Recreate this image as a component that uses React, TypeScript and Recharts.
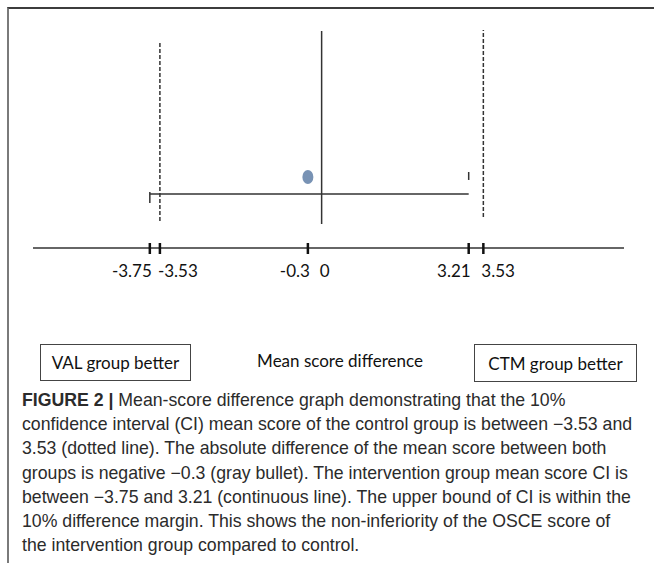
import React from "react";
import { ComposedChart, ReferenceLine, Scatter, XAxis, YAxis } from "recharts";

// values
const nonInferiorityMargin = 3.53; // control group CI (dotted lines)
const interventionCI = [-3.75, 3.21]; // continuous line
const meanDifference = -0.3; // gray bullet
const tickValues = [-3.75, -3.53, -0.3, 0, 3.21, 3.53];
const tickLabels = ["-3.75", "-3.53", "-0.3", "0", "3.21", "3.53"];
const sideLabels = ["VAL group better", "CTM group better"];
const axisTitle = "Mean score difference";
const captionLines = [
  "Mean-score difference graph demonstrating that the 10%",
  "confidence interval (CI) mean score of the control group is between \u22123.53 and",
  "3.53 (dotted line). The absolute difference of the mean score between both",
  "groups is negative \u22120.3 (gray bullet). The intervention group mean score CI is",
  "between \u22123.75 and 3.21 (continuous line). The upper bound of CI is within the",
  "10% difference margin. This shows the non-inferiority of the OSCE score of",
  "the intervention group compared to control.",
];

// schematic vertical layout (hidden y axis, 0..10)
const ciRow = 1.55;
const dotRow = 2.42;

const labelFont = "Lato, 'Open Sans', sans-serif";

function AxisTick(props: any) {
  const { x, y, payload } = props;
  const v = payload.value;
  const i = tickValues.indexOf(v);
  const prev = i > 0 ? tickValues[i - 1] : null;
  const next = i < tickValues.length - 1 ? tickValues[i + 1] : null;
  let anchor = "middle";
  let dx = 0;
  if (next !== null && next - v < 0.4) {
    anchor = "end";
    dx = 2;
  } else if (prev !== null && v - prev < 0.4) {
    anchor = "start";
    dx = -2;
  }
  return (
    <g>
      {v !== 0 && (
        <line x1={x} x2={x} y1={y - 5} y2={y + 6} stroke="#111" strokeWidth={2.5} />
      )}
      <text
        x={x + dx}
        y={y + 29}
        textAnchor={anchor}
        fontFamily={labelFont}
        fontSize={17}
        fill="#111"
      >
        {tickLabels[i]}
      </text>
    </g>
  );
}

export default function App() {
  const boxStyle: React.CSSProperties = {
    position: "absolute",
    top: 344,
    height: 37,
    border: "1px solid #444",
    boxSizing: "border-box",
    display: "flex",
    alignItems: "center",
    justifyContent: "center",
    fontFamily: labelFont,
    fontSize: 17,
    color: "#111",
  };

  return (
    <div
      style={{
        position: "absolute",
        left: 0,
        top: 0,
        width: 654,
        height: 563,
        background: "#fff",
        overflow: "hidden",
      }}
    >
      {/* frame */}
      <div
        style={{
          position: "absolute",
          left: 7,
          top: 7,
          right: 0,
          bottom: 0,
          borderTop: "2px solid #3c3c3c",
          borderLeft: "2px solid #7a7a7a",
        }}
      />

      <div style={{ position: "absolute", left: 0, top: 0 }}>
        <ComposedChart width={654} height={300} margin={{ top: 30, right: 30, bottom: 12, left: 33 }}>
          <XAxis
            type="number"
            dataKey="x"
            domain={[-6.3, 6.6]}
            allowDataOverflow
            ticks={tickValues}
            tick={<AxisTick />}
            tickLine={false}
            tickSize={0}
            tickMargin={0}
            axisLine={{ stroke: "#333", strokeWidth: 1.5 }}
            height={40}
            interval={0}
          />
          <YAxis
            type="number"
            dataKey="y"
            domain={[0, 10]}
            padding={{ top: 0, bottom: 24 }}
            allowDataOverflow
            hide
          />
          <ReferenceLine
            segment={[{ x: 0, y: 0 }, { x: 0, y: 9.95 }]}
            stroke="#333"
            strokeWidth={1.5}
          />
          <ReferenceLine
            segment={[
              { x: -nonInferiorityMargin, y: 0.15 },
              { x: -nonInferiorityMargin, y: 9.4 },
            ]}
            stroke="#333"
            strokeWidth={1.5}
            strokeDasharray="4 2"
          />
          <ReferenceLine
            segment={[
              { x: nonInferiorityMargin, y: 0.36 },
              { x: nonInferiorityMargin, y: 10 },
            ]}
            stroke="#333"
            strokeWidth={1.5}
            strokeDasharray="4 2"
          />
          <ReferenceLine
            segment={[
              { x: interventionCI[0], y: ciRow },
              { x: interventionCI[1], y: ciRow },
            ]}
            stroke="#333"
            strokeWidth={1.5}
          />
          <ReferenceLine
            segment={[
              { x: interventionCI[0], y: ciRow - 0.47 },
              { x: interventionCI[0], y: ciRow + 0.1 },
            ]}
            stroke="#333"
            strokeWidth={1.5}
          />
          <ReferenceLine
            segment={[
              { x: interventionCI[1], y: ciRow + 0.72 },
              { x: interventionCI[1], y: ciRow + 1.13 },
            ]}
            stroke="#333"
            strokeWidth={1.5}
          />
          <Scatter
            data={[{ x: meanDifference, y: dotRow }]}
            isAnimationActive={false}
            shape={(p: any) => <ellipse cx={p.cx} cy={p.cy} rx={5.5} ry={7} fill="#7892b4" />}
          />
        </ComposedChart>
      </div>

      <div style={{ ...boxStyle, left: 40, width: 151 }}>{sideLabels[0]}</div>
      <div style={{ ...boxStyle, left: 474, width: 163, height: 38 }}>{sideLabels[1]}</div>
      <div
        style={{
          position: "absolute",
          left: 240,
          top: 349,
          width: 200,
          textAlign: "center",
          fontFamily: labelFont,
          fontSize: 17,
          lineHeight: "24px",
          color: "#111",
        }}
      >
        {axisTitle}
      </div>

      <div
        style={{
          position: "absolute",
          left: 22,
          top: 388,
          fontFamily: "'Liberation Sans', Arial, sans-serif",
          fontSize: 17.7,
          lineHeight: "24.2px",
          color: "#2b2b2b",
          whiteSpace: "nowrap",
        }}
      >
        {captionLines.map((line, i) => (
          <div key={i}>
            {i === 0 && <b>FIGURE 2 | </b>}
            {line}
          </div>
        ))}
      </div>
    </div>
  );
}
